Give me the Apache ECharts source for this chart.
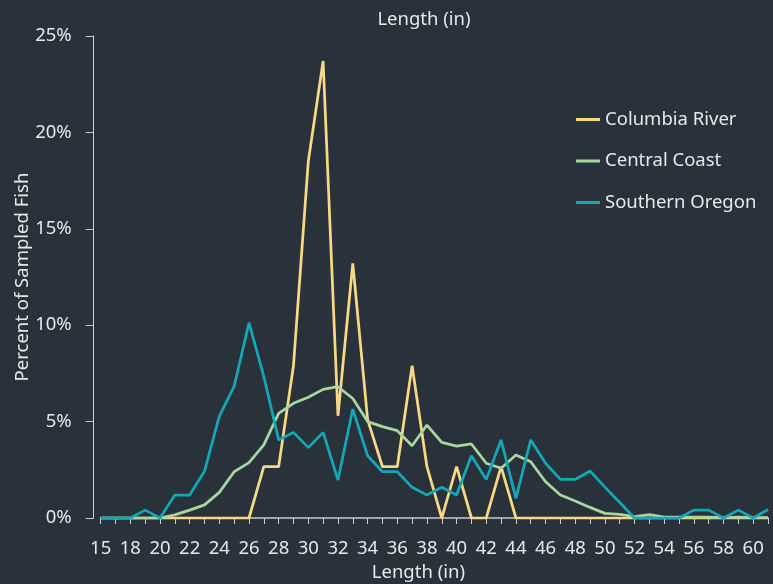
<!DOCTYPE html>
<html>
<head>
<meta charset="utf-8">
<script src="https://cdn.jsdelivr.net/npm/echarts@6/dist/echarts.min.js"></script>
<style>
html,body{margin:0;padding:0;background:#29313a;}
#chart{width:773px;height:584px;}
</style>
</head>
<body>
<div id="chart"></div>
<script>
var lengths = ['15','17','18','19','20','21','22','23','24','25','26','27','28','29','30','31','32','33','34','35','36','37','38','39','40','41','42','43','44','45','46','47','48','49','50','51','52','53','54','55','56','57','58','59','60','61'];
var columbiaRiver = [0,0,0,0,0,0,0,0,0,0,0,2.66,2.66,7.9,18.5,23.7,5.3,13.2,5.1,2.66,2.66,7.9,2.66,0,2.66,0,0,2.66,0,0,0,0,0,0,0,0,0,0,0,0,0,0,0,0,0,0];
var centralCoast = [0,0,0,0,0,0.16,0.41,0.68,1.33,2.4,2.87,3.79,5.43,5.95,6.26,6.67,6.81,6.2,5.0,4.74,4.53,3.75,4.82,3.92,3.73,3.84,2.84,2.58,3.27,2.92,1.88,1.19,0.88,0.55,0.24,0.19,0.07,0.17,0.04,0.04,0.04,0.04,0.02,0.04,0.02,0.02];
var southernOregon = [0,0,0,0.41,0,1.19,1.19,2.42,5.28,6.83,10.13,7.33,4.05,4.44,3.65,4.44,1.97,5.65,3.23,2.4,2.4,1.59,1.19,1.59,1.19,3.23,2.0,4.05,1.02,4.05,2.84,2.0,2.0,2.44,1.6,0.8,0,0,0,0,0.41,0.41,0,0.41,0,0.44];
var yTicks = [0,5,10,15,20,25];

var textColor = '#e6e8ea';
var font = 'Noto Sans';
var fs = 18.5;
var chart = echarts.init(document.getElementById('chart'));
chart.setOption({
  backgroundColor: '#29313a',
  animation: false,
  textStyle: {fontFamily: font},
  title: {
    text: 'Length (in)',
    left: 419, top: 5,
    textAlign: 'center',
    textStyle: {color: textColor, fontSize: fs, fontWeight: 'normal', fontFamily: font}
  },
  legend: {
    orient: 'vertical',
    left: 571, top: 105,
    itemWidth: 24, itemHeight: 3,
    itemGap: 22.5,
    icon: 'rect',
    textStyle: {color: textColor, fontSize: fs, fontFamily: font},
    data: ['Columbia River','Central Coast','Southern Oregon']
  },
  grid: {left: 100.7, right: 5, top: 36, bottom: 66, outerBoundsMode: 'none', containLabel: false},
  xAxis: {
    type: 'category',
    data: lengths,
    boundaryGap: false,
    name: 'Length (in)',
    nameLocation: 'middle',
    nameGap: 45,
    nameMoveOverlap: false,
    nameTextStyle: {color: textColor, fontSize: fs, fontFamily: font, padding: [0,32,0,0]},
    axisLine: {lineStyle: {color: '#a0a4a8', width: 2}},
    axisTick: {show: true, interval: 0, length: 6, lineStyle: {color: '#c8cacc'}},
    axisLabel: {interval: 1, color: textColor, fontSize: fs, margin: 21, fontFamily: font},
    splitLine: {show: false}
  },
  yAxis: {
    type: 'value',
    min: yTicks[0], max: yTicks[yTicks.length-1], interval: 5,
    offset: 7,
    name: 'Percent of Sampled Fish',
    nameLocation: 'middle',
    nameGap: 61,
    nameMoveOverlap: false,
    nameTextStyle: {color: textColor, fontSize: fs, fontFamily: font},
    axisLine: {show: true, lineStyle: {color: '#d0d2d4', width: 1}},
    axisTick: {show: true, length: 8, lineStyle: {color: '#c8cacc'}},
    axisLabel: {color: textColor, fontSize: fs, margin: 22, formatter: '{value}%', fontFamily: font},
    splitLine: {show: false}
  },
  series: [
    {name: 'Columbia River', type: 'line', data: columbiaRiver, showSymbol: false, symbol: 'none',
     lineStyle: {color: '#f6d885', width: 2.75}, itemStyle: {color: '#f6d885'}},
    {name: 'Central Coast', type: 'line', data: centralCoast, showSymbol: false, symbol: 'none',
     lineStyle: {color: '#a7d6a0', width: 2.75}, itemStyle: {color: '#a7d6a0'}},
    {name: 'Southern Oregon', type: 'line', data: southernOregon, showSymbol: false, symbol: 'none',
     lineStyle: {color: '#14a7b6', width: 2.75}, itemStyle: {color: '#14a7b6'}}
  ]
});
</script>
</body>
</html>
